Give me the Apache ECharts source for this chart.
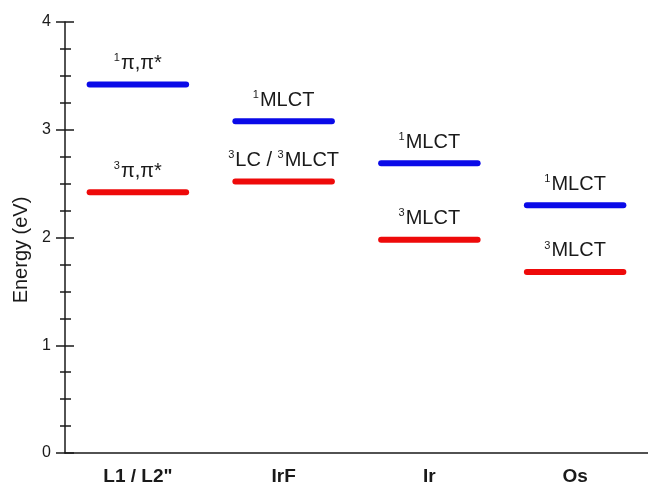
<!DOCTYPE html>
<html>
<head>
<meta charset="utf-8">
<script src="https://cdn.jsdelivr.net/npm/echarts@6/dist/echarts.min.js"></script>
<style>html,body{margin:0;padding:0;background:#fff}#c{width:648px;height:497px}</style>
</head>
<body>
<div id="c"></div>
<script>
var categories = ['L1 / L2"', 'IrF', 'Ir', 'Os'];
var singletValues = [3.42, 3.08, 2.69, 2.30];
var tripletValues = [2.42, 2.52, 1.98, 1.68];
var singletLabels = ['{s|1}{m|π,π*}', '{s|1}{m|MLCT}', '{s|1}{m|MLCT}', '{s|1}{m|MLCT}'];
var tripletLabels = ['{s|3}{m|π,π*}', '{s|3}{m|LC / }{s|3}{m|MLCT}', '{s|3}{m|MLCT}', '{s|3}{m|MLCT}'];
var yTicks = [0, 1, 2, 3, 4];

var FONT = '"Liberation Sans", Arial, sans-serif';

function makeData(vals) {
  return vals.map(function (v, i) { return [i, v]; });
}

function renderLevel(color, labels) {
  return function (params, api) {
    var idx = api.value(0);
    var val = api.value(1);
    var label = labels[params.dataIndex];
    var p = api.coord([idx, val]);
    var half = api.size([1, 0])[0] * 0.331;
    return {
      type: 'group',
      children: [
        {
          type: 'line',
          shape: { x1: p[0] - half, y1: p[1], x2: p[0] + half, y2: p[1] },
          style: { stroke: color, lineWidth: 6, lineCap: 'round' }
        },
        {
          type: 'text',
          x: p[0],
          y: p[1] - 21,
          style: {
            text: label,
            align: 'center',
            verticalAlign: 'middle',
            fill: '#1a1a1a',
            fontSize: 20,
            fontFamily: FONT,
            rich: {
              m: { fontSize: 20, fontFamily: FONT, lineHeight: 22, fill: '#1a1a1a' },
              s: { fontSize: 11, fontFamily: FONT, lineHeight: 22, verticalAlign: 'top', fill: '#1a1a1a', padding: [0, 1, 0, 0] }
            }
          }
        }
      ]
    };
  };
}

var chart = echarts.init(document.getElementById('c'), null, { renderer: 'canvas' });
chart.setOption({
  animation: false,
  backgroundColor: '#fff',
  grid: { left: 65, top: 22, width: 586, height: 431 },
  xAxis: {
    type: 'category',
    data: categories,
    boundaryGap: true,
    axisLine: { lineStyle: { color: '#1a1a1a', width: 1.5 } },
    axisTick: { alignWithLabel: true, length: 9, lineStyle: { color: '#1a1a1a', width: 1.5 } },
    axisLabel: { margin: 14, fontSize: 19, fontWeight: 'bold', color: '#1a1a1a', fontFamily: FONT },
    splitLine: { show: false }
  },
  yAxis: [
    {
      type: 'value',
      min: yTicks[0],
      max: yTicks[yTicks.length - 1],
      interval: 1,
      name: 'Energy (eV)',
      nameLocation: 'middle',
      nameRotate: 90,
      nameGap: 34,
      nameTextStyle: { fontSize: 20, color: '#1a1a1a', fontFamily: FONT, padding: [0, 25, 0, 0] },
      axisLine: { show: true, lineStyle: { color: '#1a1a1a', width: 1.5 } },
      axisTick: { show: true, length: 9, lineStyle: { color: '#1a1a1a', width: 1.5 } },
      minorTick: { show: true, splitNumber: 4, length: 5, lineStyle: { color: '#1a1a1a', width: 1.5 } },
      axisLabel: { margin: 14, fontSize: 16, color: '#1a1a1a', fontFamily: FONT },
      splitLine: { show: false }
    },
    {
      type: 'value',
      min: yTicks[0],
      max: yTicks[yTicks.length - 1],
      interval: 1,
      position: 'left',
      axisLine: { show: false },
      axisTick: { show: true, inside: true, length: 9, lineStyle: { color: '#1a1a1a', width: 1.5 } },
      minorTick: { show: true, splitNumber: 4, length: 6, lineStyle: { color: '#1a1a1a', width: 1.5 } },
      axisLabel: { show: false },
      splitLine: { show: false }
    }
  ],
  series: [
    {
      type: 'custom',
      name: 'singlet',
      renderItem: renderLevel('#0a0ae8', singletLabels),
      encode: { x: 0, y: 1 },
      data: makeData(singletValues),
      clip: false
    },
    {
      type: 'custom',
      name: 'triplet',
      renderItem: renderLevel('#ee0a0a', tripletLabels),
      encode: { x: 0, y: 1 },
      data: makeData(tripletValues),
      clip: false
    }
  ]
});
</script>
</body>
</html>
